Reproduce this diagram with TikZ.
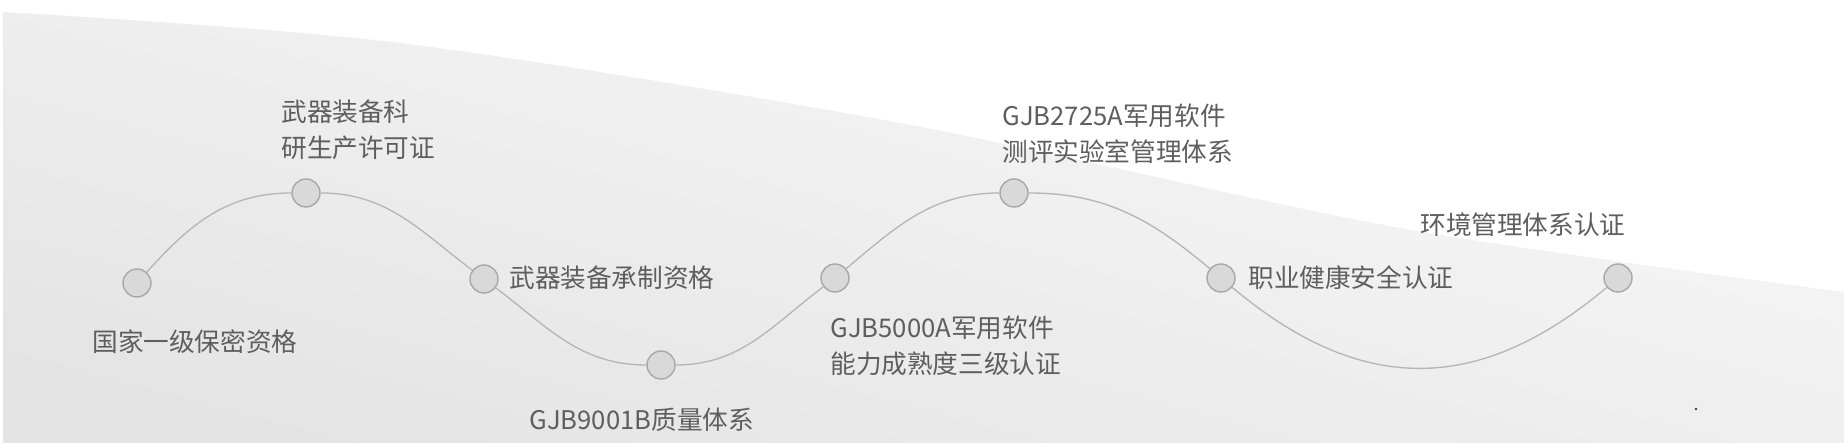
\documentclass[tikz,border=0pt]{standalone}
\usepackage{fontspec}
\usepackage{tikz}
\usepackage{xcolor}
\newfontfamily\cjk{Noto Sans CJK SC}

\begin{document}
\begin{tikzpicture}[x=0.02cm,y=0.02cm,
  every node/.style={font=\cjk\fontsize{14.6}{20.5}\selectfont,text=black!63},
  dot/.style={circle,draw=gray!68,fill=gray!30,line width=0.8pt,minimum size=0.56cm,inner sep=0pt},
  lbl/.style={anchor=west,align=left,inner sep=0pt},
  wave/.style={draw=gray!58,line width=0.75pt}]
\useasboundingbox (0,0) rectangle (1844,445);
\fill[white] (0,0) rectangle (1844,445);
\shade[top color=gray!5,bottom color=gray!21,shading angle=-15]
  (3,2) -- plot[smooth] coordinates {(3,433) (400,402) (900,322) (1400,217) (1844,153)} -- (1844,2) -- cycle;
\fill[black!75] (1696,36) circle (1.3);
\node[dot] (n1) at (137,162) {};
\node[dot] (n2) at (306,252) {};
\node[dot] (n3) at (484,166) {};
\node[dot] (n4) at (661,80) {};
\node[dot] (n5) at (835,167) {};
\node[dot] (n6) at (1014,252) {};
\node[dot] (n7) at (1221,167) {};
\node[dot] (n8) at (1618,167) {};
\draw[wave] (n1) to[out=48,in=180] (n2) to[out=0,in=143] (n3) to[out=-37,in=180] (n4)
  to[out=0,in=-143] (n5) to[out=40,in=180] (n6) to[out=0,in=140] (n7)
  to[out=-40,in=-140,looseness=1.15] (n8);
\node[lbl] (t1) at (92,103) {国家一级保密资格};
\node[lbl] (t2) at (281,315) {武器装备科\\研生产许可证};
\node[lbl] (t3) at (509,167) {武器装备承制资格};
\node[lbl] (t4) at (529,25) {GJB9001B质量体系};
\node[lbl] (t5) at (830,99) {GJB5000A军用软件\\能力成熟度三级认证};
\node[lbl] (t6) at (1002,311) {GJB2725A军用软件\\测评实验室管理体系};
\node[lbl] (t7) at (1248,167) {职业健康安全认证};
\node[lbl] (t8) at (1420,220) {环境管理体系认证};
\end{tikzpicture}
\end{document}
